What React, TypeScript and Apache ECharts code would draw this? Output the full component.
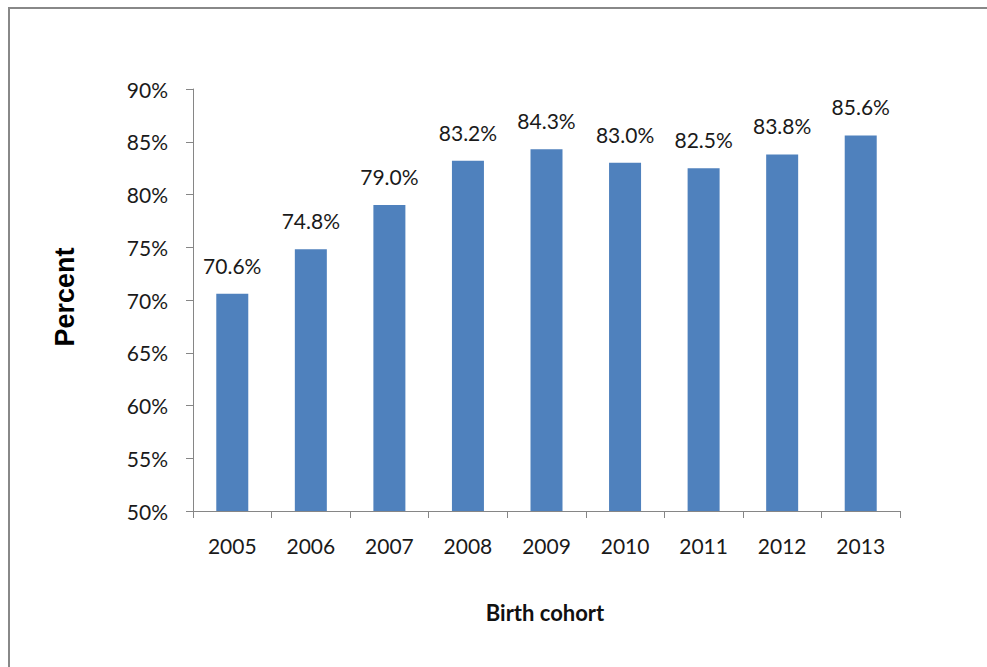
import React, { useEffect, useRef } from "react";
import * as echarts from "echarts";

const categories = ["2005", "2006", "2007", "2008", "2009", "2010", "2011", "2012", "2013"];
const values = [70.6, 74.8, 79.0, 83.2, 84.3, 83.0, 82.5, 83.8, 85.6];
const yTicks = { min: 50, max: 90, interval: 5 };
const yTitle = "Percent";
const xTitle = "Birth cohort";

export default function App() {
  const ref = useRef<HTMLDivElement>(null);
  useEffect(() => {
    const chart = echarts.init(ref.current!, null, { renderer: "svg" });
    const axisColor = "#868686";
    const font = "Lato, 'Open Sans', sans-serif";
    const textColor = "#1a1a1a";
    chart.setOption({
      animation: false,
      backgroundColor: "#ffffff",
      graphic: [
        {
          type: "rect",
          shape: { x: 9, y: 8, width: 1000, height: 700 },
          style: { fill: "none", stroke: "#888888", lineWidth: 2 },
          silent: true,
        },
        {
          type: "text",
          x: 65,
          y: 297,
          rotation: Math.PI / 2,
          style: {
            text: yTitle,
            font: "bold 27px 'Liberation Sans', Arial, sans-serif",
            fill: "#000000",
            align: "center",
            verticalAlign: "middle",
          },
        },
        {
          type: "text",
          x: 545,
          y: 612,
          style: {
            text: xTitle,
            font: "bold 22px " + font,
            fill: "#111111",
            align: "center",
            verticalAlign: "middle",
          },
        },
      ],
      grid: { left: 193, top: 89, right: 87, bottom: 156, containLabel: false },
      xAxis: {
        type: "category",
        data: categories,
        axisLine: { show: true, lineStyle: { color: axisColor, width: 1 } },
        axisTick: { show: true, alignWithLabel: false, length: 7, lineStyle: { color: axisColor } },
        axisLabel: { color: textColor, fontSize: 21, fontFamily: font, margin: 24 },
      },
      yAxis: {
        type: "value",
        min: yTicks.min,
        max: yTicks.max,
        interval: yTicks.interval,
        axisLine: { show: true, lineStyle: { color: axisColor, width: 1 } },
        axisTick: { show: true, length: 7, lineStyle: { color: axisColor } },
        splitLine: { show: false },
        axisLabel: {
          color: textColor,
          fontSize: 21,
          fontFamily: font,
          margin: 25,
          formatter: (v: number) => v + "%",
        },
      },
      series: [
        {
          type: "bar",
          data: values,
          barWidth: 32,
          itemStyle: { color: "#4F81BD" },
          label: {
            show: true,
            position: "top",
            distance: 18,
            color: textColor,
            fontSize: 21,
            fontFamily: font,
            formatter: (p: any) => p.value.toFixed(1) + "%",
          },
        },
      ],
    });
    return () => chart.dispose();
  }, []);
  return (
    <div
      ref={ref}
      style={{ position: "absolute", left: 0, top: 0, width: 987, height: 667 }}
    />
  );
}
